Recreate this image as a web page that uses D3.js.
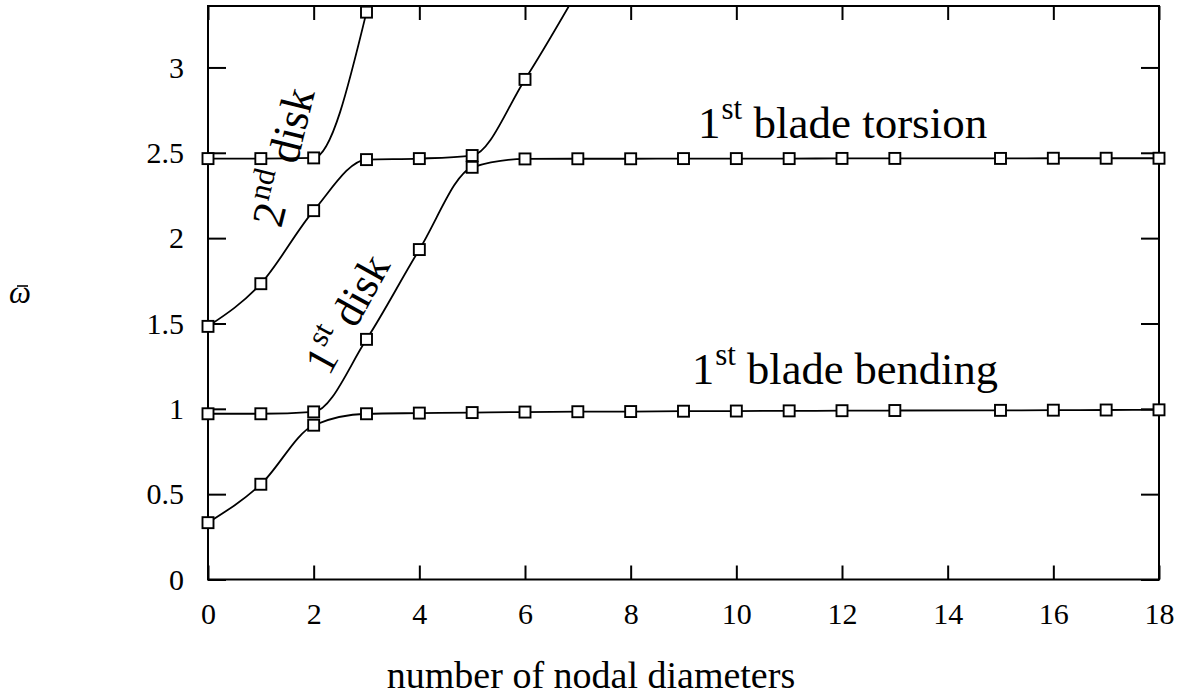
<!DOCTYPE html>
<html>
<head>
<meta charset="utf-8">
<script src="https://cdn.jsdelivr.net/npm/d3@7"></script>
<style>
  html, body { margin: 0; padding: 0; background: #fff; }
  svg { display: block; }
  text { font-family: "Liberation Serif", "Times New Roman", serif; fill: #000; }
</style>
</head>
<body>
<svg id="chart" width="1184" height="696"></svg>
<script>
// Nodal diameter positions (no computed point at 14 for the long branches)
const ndLong  = [0, 1, 2, 3, 4, 5, 6, 7, 8, 9, 10, 11, 12, 13, 15, 16, 17, 18];
const ndUpper = [0, 1, 2, 3, 4, 5, 6, 7];
const ndDisk2 = [0, 1, 2, 3];

// Non-dimensional frequencies of each branch
const branchBending = [0.333, 0.558, 0.904, 0.971, 0.975, 0.978, 0.981, 0.983, 0.984,
                       0.986, 0.987, 0.988, 0.989, 0.990, 0.991, 0.992, 0.993, 0.994];
const branchTorsion = [0.971, 0.971, 0.982, 1.407, 1.933, 2.415, 2.464, 2.465, 2.465,
                       2.466, 2.466, 2.466, 2.467, 2.467, 2.467, 2.468, 2.468, 2.468];
const branchUpper   = [1.483, 1.733, 2.161, 2.460, 2.466, 2.484, 2.930, 3.450];
const branchDisk2   = [2.466, 2.466, 2.470, 3.324];

// Axis ticks
const xTicks = [0, 2, 4, 6, 8, 10, 12, 14, 16, 18];
const yTicks = [0, 0.5, 1, 1.5, 2, 2.5, 3];
const yTickLabels = ["0", "0.5", "1", "1.5", "2", "2.5", "3"];

const series = [
  { x: ndLong,  y: branchBending },
  { x: ndLong,  y: branchTorsion },
  { x: ndUpper, y: branchUpper },
  { x: ndDisk2, y: branchDisk2 }
];

const svg = d3.select("#chart");
const W = 1184, H = 696;
const plot = { left: 208, right: 1159, top: 6, bottom: 579.5 };
const yMax = 3.36;

const x = d3.scaleLinear().domain([0, 18]).range([plot.left, plot.right]);
const y = d3.scaleLinear().domain([0, yMax]).range([plot.bottom, plot.top]);

svg.append("rect").attr("width", W).attr("height", H).attr("fill", "#fff");

svg.append("defs").append("clipPath").attr("id", "plotClip")
  .append("rect")
  .attr("x", plot.left).attr("y", plot.top)
  .attr("width", plot.right - plot.left).attr("height", plot.bottom - plot.top);

// Axes with inward ticks on all four sides
const tickFont = 30;
const gx = svg.append("g").attr("transform", `translate(0,${plot.bottom})`)
  .call(d3.axisBottom(x).tickValues(xTicks).tickSize(-14).tickPadding(23).tickFormat(d3.format("d")));
const gy = svg.append("g").attr("transform", `translate(${plot.left},0)`)
  .call(d3.axisLeft(y).tickValues(yTicks).tickSize(-18).tickPadding(24)
    .tickFormat((d, i) => yTickLabels[i]));
const gt = svg.append("g").attr("transform", `translate(0,${plot.top})`)
  .call(d3.axisTop(x).tickValues(xTicks).tickSize(-14).tickFormat(""));
const gr = svg.append("g").attr("transform", `translate(${plot.right},0)`)
  .call(d3.axisRight(y).tickValues(yTicks).tickSize(-18).tickFormat(""));

[gx, gy, gt, gr].forEach(g => {
  g.select(".domain").remove();
  g.selectAll(".tick line").attr("stroke", "#000").attr("stroke-width", 2);
  g.selectAll(".tick text")
    .style("font-family", "Liberation Serif, serif")
    .style("font-size", tickFont + "px")
    .attr("fill", "#000");
});

// Frame
svg.append("rect")
  .attr("x", plot.left).attr("y", plot.top)
  .attr("width", plot.right - plot.left).attr("height", plot.bottom - plot.top)
  .attr("fill", "none").attr("stroke", "#000").attr("stroke-width", 2);

// Branch curves
const line = d3.line()
  .x(d => x(d[0])).y(d => y(d[1]))
  .curve(d3.curveMonotoneX);

const curves = svg.append("g").attr("clip-path", "url(#plotClip)");
series.forEach(s => {
  const pts = s.x.map((v, i) => [v, s.y[i]]);
  curves.append("path")
    .attr("d", line(pts))
    .attr("fill", "none")
    .attr("stroke", "#000")
    .attr("stroke-width", 1.8);
});

// Square markers at the computed points
const ms = 11;
const marks = svg.append("g");
series.forEach(s => {
  const pts = s.x.map((v, i) => [v, s.y[i]]).filter(p => p[1] <= yMax);
  marks.selectAll(null).data(pts).enter().append("rect")
    .attr("x", d => x(d[0]) - ms / 2)
    .attr("y", d => y(d[1]) - ms / 2)
    .attr("width", ms).attr("height", ms)
    .attr("fill", "#fff").attr("stroke", "#000").attr("stroke-width", 1.9);
});

// Mode labels: ordinal with superscript
function modeLabel(g, ord, sup, rest, size) {
  const t = g.append("text").style("font-size", size + "px");
  t.append("tspan").text(ord);
  t.append("tspan").style("font-size", Math.round(size * 0.7) + "px")
    .attr("dx", 1).attr("dy", -size * 0.42).text(sup);
  t.append("tspan").attr("dy", size * 0.42).text(rest);
  return t;
}

modeLabel(svg.append("g").attr("transform", "translate(698,138)"), "1", "st", " blade torsion", 45);
modeLabel(svg.append("g").attr("transform", "translate(692,384)"), "1", "st", " blade bending", 44.5);
modeLabel(svg.append("g").attr("transform", "translate(281,229) rotate(-76)"), "2", "nd", " disk", 45);
modeLabel(svg.append("g").attr("transform", "translate(329,377) rotate(-61)"), "1", "st", " disk", 44);

// Axis titles
svg.append("text")
  .attr("x", 591).attr("y", 688)
  .attr("text-anchor", "middle")
  .style("font-size", "38px")
  .text("number of nodal diameters");

svg.append("text")
  .attr("x", 9).attr("y", 303)
  .style("font-size", "31px")
  .style("font-style", "italic")
  .text("\u03C9");
svg.append("line")
  .attr("x1", 17).attr("x2", 28)
  .attr("y1", 286).attr("y2", 286)
  .attr("stroke", "#000").attr("stroke-width", 1.6);
</script>
</body>
</html>
